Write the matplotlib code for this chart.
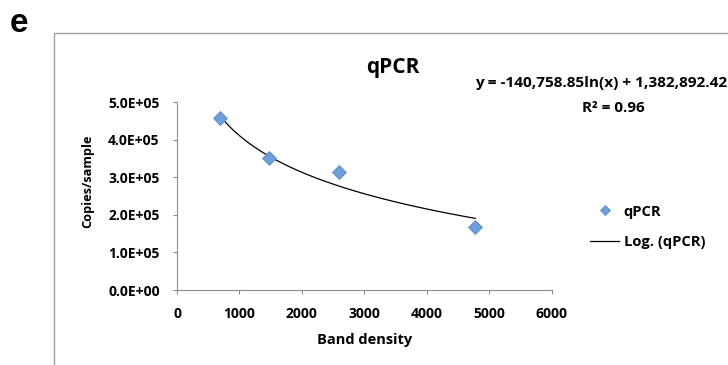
"""
qPCR copies/sample vs band density, with log trendline (panel e).
"""

import numpy as np
import matplotlib
matplotlib.use('Agg')
import matplotlib.pyplot as plt
from matplotlib.patches import Rectangle
from matplotlib.ticker import FuncFormatter

# ── data ──────────────────────────────────────────────────────────────────────
band_density = [690, 1475, 2590, 4775]
copies_per_sample = [4.57e5, 3.51e5, 3.14e5, 1.68e5]

# trendline coefficients as printed on the chart: y = a*ln(x) + b
fit_a = -140758.85
fit_b = 1382892.42
r_squared = 0.96

x_ticks = [0, 1000, 2000, 3000, 4000, 5000, 6000]
y_ticks = [0, 1e5, 2e5, 3e5, 4e5, 5e5]

# ── style ─────────────────────────────────────────────────────────────────────
plt.rcParams['font.family'] = ['Open Sans', 'DejaVu Sans']
plt.rcParams['font.weight'] = 'bold'
GREY = '#8c8c8c'
BLUE = '#6f9fd8'

W, H = 728, 365
fig = plt.figure(figsize=(W / 100, H / 100), dpi=100)

# chart area border (runs off the right and bottom edges)
fig.patches.append(Rectangle((54.3 / W, -0.05), 1.0, 0.9604, transform=fig.transFigure,
                             fill=False, ec='#a0a0a0', lw=1.0))

ax = fig.add_axes([177 / W, 1 - 290 / H, (551.7 - 177) / W, (290 - 102) / H])

# ── plot ──────────────────────────────────────────────────────────────────────
ax.plot(band_density, copies_per_sample, linestyle='none', marker='D', markersize=6.8,
        markerfacecolor=BLUE, markeredgecolor='#5a8ccc', markeredgewidth=0.6,
        label='qPCR', zorder=3)

xs = np.linspace(min(band_density), max(band_density), 200)
ax.plot(xs, fit_a * np.log(xs) + fit_b, color='black', lw=0.9, label='Log. (qPCR)', zorder=2)

ax.set_xlim(0, 6000)
ax.set_ylim(0, 5e5)
ax.set_xticks(x_ticks)
ax.set_yticks(y_ticks)
ax.yaxis.set_major_formatter(FuncFormatter(lambda v, p: f"{v:.1E}"))

for s in ['top', 'right']:
    ax.spines[s].set_visible(False)
for s in ['left', 'bottom']:
    ax.spines[s].set_color(GREY)
    ax.spines[s].set_linewidth(0.8)
ax.tick_params(axis='both', direction='out', length=3, width=0.8, color=GREY,
               labelsize=10)
ax.tick_params(axis='x', pad=9)
ax.tick_params(axis='y', pad=9.5)

ax.set_xlabel('Band density', fontsize=10.5, fontweight='bold')
ax.xaxis.set_label_coords(0.5, -(340 - 290) / 188, transform=ax.transAxes)
ax.xaxis.label.set_va('center')
ax.set_ylabel('Copies/sample', fontsize=9.2, fontweight='bold')
ax.yaxis.set_label_coords((88 - 177) / 374.7, (290 - 181) / 188)
ax.yaxis.label.set_va('center')

# ── texts ─────────────────────────────────────────────────────────────────────
fig.text(393 / W, 1 - 73.3 / H, 'qPCR', ha='center', va='baseline',
         fontsize=15, fontweight='bold')
fig.text(475 / W, 1 - 86.7 / H, 'y = -140,758.85ln(x) + 1,382,892.42', ha='left',
         va='baseline', fontsize=11.1, fontweight='bold')
fig.text(613 / W, 1 - 112.3 / H, f'R² = {r_squared:.2f}', ha='center', va='baseline',
         fontsize=11, fontweight='bold')
fig.text(10 / W, 1 - 32 / H, 'e', ha='left', va='baseline', fontsize=24,
         fontweight='bold', family='Liberation Sans')

ax.legend(loc='center left', bbox_to_anchor=(590 / W, 1 - 227 / H),
          bbox_transform=fig.transFigure, frameon=False, fontsize=10.6,
          markerscale=0.8, handlelength=2.0, handletextpad=0.3,
          labelspacing=1.15, borderpad=0, borderaxespad=0)

fig.savefig('out.png', dpi=100)
